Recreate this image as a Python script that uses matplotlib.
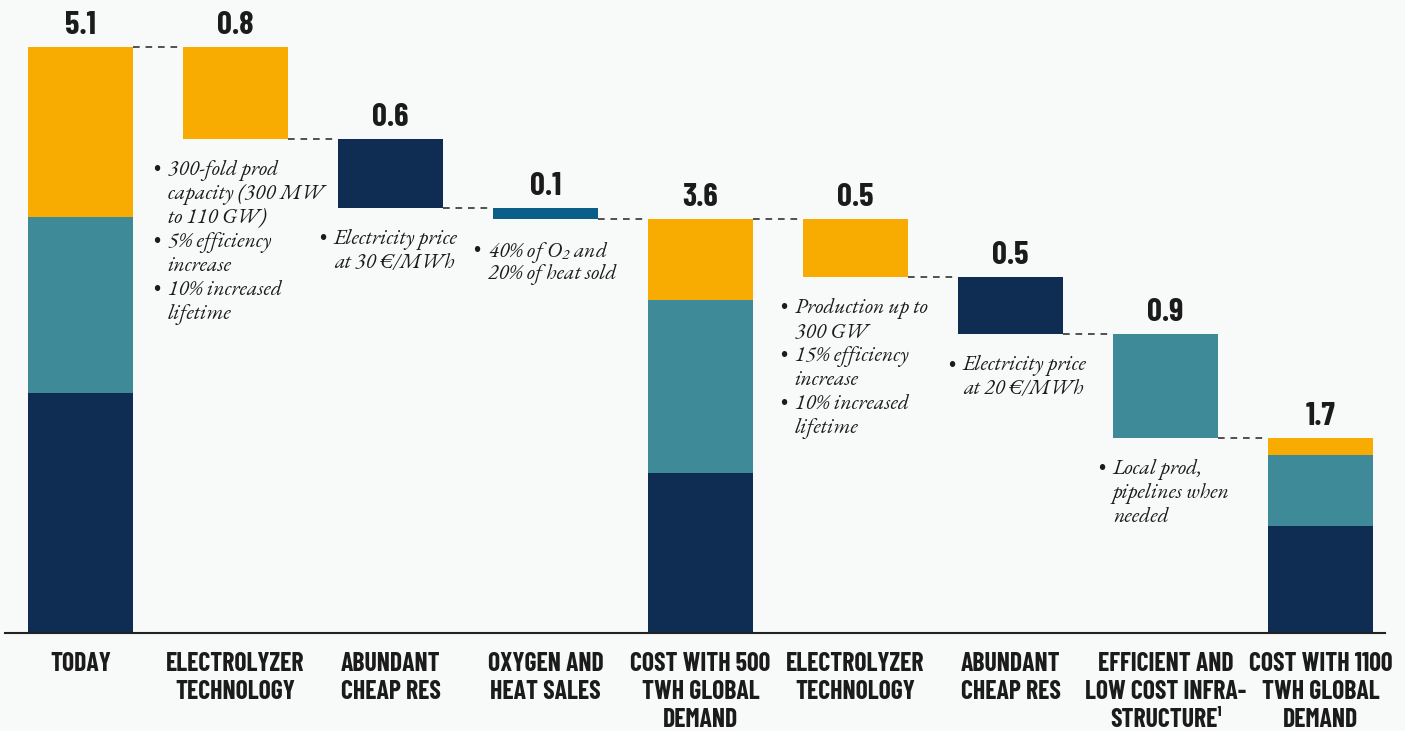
import matplotlib
matplotlib.use("Agg")
from matplotlib import pyplot as plt
from matplotlib import font_manager

# data
labels = ["TODAY", "ELECTROLYZER\nTECHNOLOGY", "ABUNDANT\nCHEAP RES", "OXYGEN AND\nHEAT SALES",
          "COST WITH 500\nTWH GLOBAL\nDEMAND", "ELECTROLYZER\nTECHNOLOGY", "ABUNDANT\nCHEAP RES",
          "EFFICIENT AND\nLOW COST INFRA-\nSTRUCTURE\u00b9", "COST WITH 1100\nTWH GLOBAL\nDEMAND"]
kinds = ["total", "step", "step", "step", "total", "step", "step", "step", "total"]
values = [5.1, 0.8, 0.6, 0.1, 3.6, 0.5, 0.5, 0.9, 1.7]
value_labels = ["5.1", "0.8", "0.6", "0.1", "3.6", "0.5", "0.5", "0.9", "1.7"]

# stacked parts of the totals: navy, teal, orange
total_navy = [2.09, 1.39, 0.93]
total_teal = [1.53, 1.51, 0.62]
total_orange = [1.48, 0.70, 0.15]

step_colors = ["#f8ab00", "#0f2d52", "#0b5e88", "#f8ab00", "#0f2d52", "#3f8a98"]

notes = {
    1: ["\u2022300-fold prod", "capacity (300 MW", "to 110 GW)", "\u20225% efficiency", "increase",
        "\u202210% increased", "lifetime"],
    2: ["\u2022Electricity price", "at 30 \u20ac/MWh"],
    3: ["\u202240% of O$_2$ and", "20% of heat sold"],
    5: ["\u2022Production up to", "300 GW", "\u202215% efficiency", "increase",
        "\u202210% increased", "lifetime"],
    6: ["\u2022Electricity price", "at 20 \u20ac/MWh"],
    7: ["\u2022Local prod,", "pipelines when", "needed"],
}
note_dx = {1: -30, 2: -19, 3: -20, 5: -23, 6: -10, 7: -15}

NAVY, TEAL, ORANGE = "#0f2d52", "#3f8a98", "#f8ab00"

# pick fonts that are installed
have = {f.name for f in font_manager.fontManager.ttflist}
COND = next(f for f in ["Barlow Condensed", "Roboto Condensed", "Oswald", "Open Sans Condensed", "DejaVu Sans"] if f in have)
SERIF = next(f for f in ["EB Garamond", "Cormorant Garamond", "Liberation Serif"] if f in have)

plt.rcParams['mathtext.fontset'] = 'custom'
plt.rcParams['mathtext.rm'] = SERIF + ':italic'
plt.rcParams['mathtext.it'] = SERIF + ':italic'

fig = plt.figure(figsize=(14.05, 7.31), dpi=100, facecolor="#f8f9f9")
ax = fig.add_axes([0, 0, 1, 1])
ax.set_facecolor("#f8f9f9")
ax.set_xlim(-0.52, 8.545)
ax.set_ylim(-0.853, 5.51)
ax.axis("off")

W = 0.68
cond = dict(family=[COND, "DejaVu Sans"], fontweight="bold", color="#1b1b1b")

level = 0
tops = []
bottoms = []
ti = 0
si = 0
for i, (k, v) in enumerate(zip(kinds, values)):
    if k == "total":
        ax.bar(i, total_navy[ti], W, color=NAVY)
        ax.bar(i, total_teal[ti], W, bottom=total_navy[ti], color=TEAL)
        ax.bar(i, total_orange[ti], W, bottom=total_navy[ti] + total_teal[ti], color=ORANGE)
        ti += 1
        level = v
        tops.append(v)
        bottoms.append(0)
    else:
        ax.bar(i, v, W, bottom=level - v, color=step_colors[si])
        si += 1
        tops.append(level)
        level = level - v
        bottoms.append(level)

# dashed connectors
for i in range(len(values) - 1):
    y = tops[i + 1]
    ax.plot([i + W / 2, i + 1 - W / 2], [y, y], ls=(0, (4, 3.5)), color="#333333", lw=1.2)

# value labels
for i in range(len(values)):
    ax.annotate(value_labels[i], (i, tops[i]), xytext=(0, 7), textcoords="offset pixels",
                ha="center", va="bottom", fontsize=23.5, **cond)

# category labels
for i, lab in enumerate(labels):
    ax.text(i, -0.165, lab, ha="center", va="top", fontsize=18.5, linespacing=1.2, **cond)

# baseline
ax.plot([-0.487, 8.416], [0, 0], color="#222222", lw=1.5)

# notes
for i, lines in notes.items():
    for j, line in enumerate(lines):
        if line.startswith("\u2022"):
            ax.annotate("\u2022", (i - W / 2, bottoms[i]), xytext=(note_dx[i], -22 - 24 * j),
                        textcoords="offset pixels", ha="left", va="top",
                        fontsize=15, family=SERIF, color="#1b1b1b")
            line = line[1:]
        ax.annotate(line, (i - W / 2, bottoms[i]), xytext=(note_dx[i] + 15, -21 - 24 * j),
                    textcoords="offset pixels", ha="left", va="top",
                    fontsize=15.5, family=SERIF, style="italic", color="#1b1b1b")

fig.savefig("out.png", dpi=100, facecolor=fig.get_facecolor())
